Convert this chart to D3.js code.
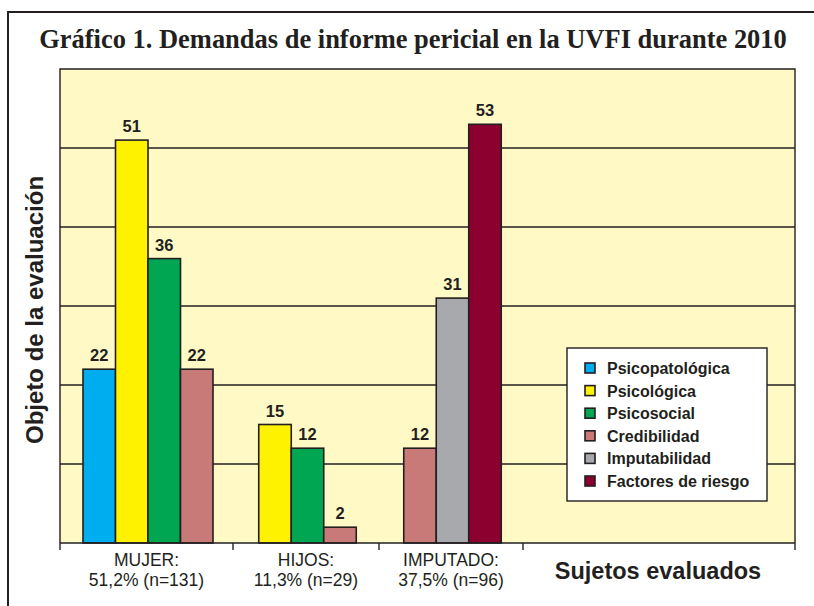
<!DOCTYPE html>
<html>
<head>
<meta charset="utf-8">
<script src="https://cdn.jsdelivr.net/npm/d3@7"></script>
<style>
  html, body { margin: 0; padding: 0; background: #ffffff; }
  svg { display: block; }
</style>
</head>
<body>
<svg id="chart" width="814" height="606"></svg>
<script>
// ---------- DATA ----------
const title = "Gráfico 1. Demandas de informe pericial en la UVFI durante 2010";
const categories = ["MUJER", "HIJOS", "IMPUTADO"];
const categoryLine1 = ["MUJER:", "HIJOS:", "IMPUTADO:"];
const categoryLine2 = ["51,2% (n=131)", "11,3% (n=29)", "37,5% (n=96)"];
const seriesNames = ["Psicopatológica", "Psicológica", "Psicosocial", "Credibilidad", "Imputabilidad", "Factores de riesgo"];
const psicopatologica = [22, 0, 0];
const psicologica     = [51, 15, 0];
const psicosocial     = [36, 12, 0];
const credibilidad    = [22, 2, 12];
const imputabilidad   = [0, 0, 31];
const factoresRiesgo  = [0, 0, 53];
const seriesValues = [psicopatologica, psicologica, psicosocial, credibilidad, imputabilidad, factoresRiesgo];
const seriesColors = ["#00AEEF", "#FFF200", "#00A651", "#C77A78", "#A7A9AC", "#8C0030"];
const yTicks = [0, 10, 20, 30, 40, 50, 60];
const yTitle = "Objeto de la evaluación";
const xTitle = "Sujetos evaluados";

// ---------- LAYOUT ----------
const ink = "#231F20";
const plot = { left: 60, right: 795, top: 69, bottom: 543 };
const bandEdges = [60, 233, 379, 523, 795];
const barW = 32.5;

const svg = d3.select("#chart");

// outer frame
svg.append("path")
  .attr("d", `M8,606 L8,12 L814,12`)
  .attr("fill", "none").attr("stroke", ink).attr("stroke-width", 2);

// title (font size fitted so the title spans ~750px)
const titleText = svg.append("text")
  .attr("x", 413).attr("y", 48)
  .attr("text-anchor", "middle")
  .attr("font-family", "'Liberation Serif', 'Times New Roman', serif")
  .attr("font-weight", "bold").attr("font-size", 28)
  .attr("fill", ink)
  .text(title);
const natural = titleText.node().getComputedTextLength();
if (natural > 0) titleText.attr("font-size", Math.min(30, 28 * 748 / natural));

// scales
const y = d3.scaleLinear().domain([0, 60]).range([plot.bottom, plot.top]);
const centers = categories.map((c, i) => (bandEdges[i] + bandEdges[i + 1]) / 2);
const x = d3.scaleOrdinal().domain(categories).range(centers);
const color = d3.scaleOrdinal().domain(seriesNames).range(seriesColors);

// plot background
svg.append("rect")
  .attr("x", plot.left).attr("y", plot.top)
  .attr("width", plot.right - plot.left).attr("height", plot.bottom - plot.top)
  .attr("fill", "#FFF9C6");

// gridlines
svg.append("g").selectAll("line")
  .data(yTicks.filter(t => t > 0 && t < 60))
  .join("line")
  .attr("x1", plot.left).attr("x2", plot.right)
  .attr("y1", d => y(d)).attr("y2", d => y(d))
  .attr("stroke", ink).attr("stroke-width", 1.4);

// plot border (left, top, right)
svg.append("path")
  .attr("d", `M${plot.left},${plot.bottom} L${plot.left},${plot.top} L${plot.right},${plot.top} L${plot.right},${plot.bottom}`)
  .attr("fill", "none").attr("stroke", ink).attr("stroke-width", 1.4);

// bars
const groups = categories.map((cat, ci) => {
  const items = seriesNames.map((s, si) => ({ cat, series: s, value: seriesValues[si][ci] }))
    .filter(d => d.value > 0);
  const c = x(cat) + 1.5;
  const inner = d3.scaleBand().domain(items.map(d => d.series))
    .range([c - items.length * barW / 2, c + items.length * barW / 2]);
  return items.map(d => ({ ...d, x0: inner(d.series), w: inner.bandwidth() }));
}).flat();

svg.append("g").selectAll("rect")
  .data(groups)
  .join("rect")
  .attr("x", d => d.x0).attr("y", d => y(d.value))
  .attr("width", d => d.w).attr("height", d => y(0) - y(d.value))
  .attr("fill", d => color(d.series))
  .attr("stroke", ink).attr("stroke-width", 1.6);

svg.append("g").selectAll("text")
  .data(groups)
  .join("text")
  .attr("x", d => d.x0 + d.w / 2).attr("y", d => y(d.value) - 8)
  .attr("text-anchor", "middle")
  .attr("font-family", "'Liberation Sans', Arial, sans-serif")
  .attr("font-weight", "bold").attr("font-size", 16.5)
  .attr("fill", ink)
  .text(d => d.value);

// x axis baseline + ticks
svg.append("line")
  .attr("x1", plot.left).attr("x2", plot.right)
  .attr("y1", plot.bottom).attr("y2", plot.bottom)
  .attr("stroke", ink).attr("stroke-width", 1.4);
svg.append("g").selectAll("line")
  .data(bandEdges)
  .join("line")
  .attr("x1", d => d).attr("x2", d => d)
  .attr("y1", plot.bottom).attr("y2", plot.bottom + 7)
  .attr("stroke", ink).attr("stroke-width", 1.4);

// category labels
const catG = svg.append("g")
  .attr("font-family", "'Liberation Sans', Arial, sans-serif")
  .attr("font-size", 17.5).attr("fill", ink).attr("text-anchor", "middle");
categories.forEach((c, i) => {
  catG.append("text").attr("x", x(c)).attr("y", 566).text(categoryLine1[i]);
  catG.append("text").attr("x", x(c)).attr("y", 586).text(categoryLine2[i]);
});

// x title
svg.append("text")
  .attr("x", (bandEdges[3] + bandEdges[4]) / 2 - 1).attr("y", 579)
  .attr("text-anchor", "middle")
  .attr("font-family", "'Liberation Sans', Arial, sans-serif")
  .attr("font-weight", "bold").attr("font-size", 23.5)
  .attr("fill", ink)
  .text(xTitle);

// y title
svg.append("text")
  .attr("transform", "translate(43,310) rotate(-90)")
  .attr("text-anchor", "middle")
  .attr("font-family", "'Liberation Sans', Arial, sans-serif")
  .attr("font-weight", "bold").attr("font-size", 24)
  .attr("fill", ink)
  .text(yTitle);

// legend
const lg = { x: 567, y: 348, w: 200, h: 153 };
svg.append("rect")
  .attr("x", lg.x).attr("y", lg.y).attr("width", lg.w).attr("height", lg.h)
  .attr("fill", "#ffffff").attr("stroke", ink).attr("stroke-width", 1.4);
const legRow = d3.scaleLinear().domain([0, seriesNames.length - 1]).range([374, 487]);
const li = svg.append("g").selectAll("g")
  .data(seriesNames)
  .join("g");
li.append("rect")
  .attr("x", 585).attr("y", (d, i) => legRow(i) - 11)
  .attr("width", 10).attr("height", 10)
  .attr("fill", d => color(d))
  .attr("stroke", ink).attr("stroke-width", 1.6);
li.append("text")
  .attr("x", 607).attr("y", (d, i) => legRow(i))
  .attr("font-family", "'Liberation Sans', Arial, sans-serif")
  .attr("font-weight", "bold").attr("font-size", 16)
  .attr("fill", ink)
  .text(d => d);
</script>
</body>
</html>
